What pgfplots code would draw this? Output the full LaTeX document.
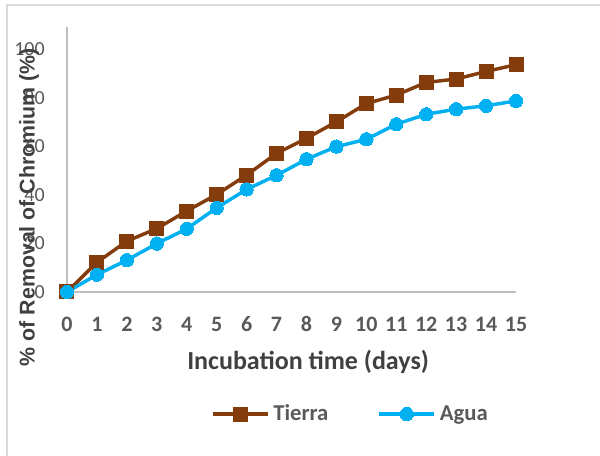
\documentclass[border=0pt]{standalone}
\usepackage{pgfplots}
\pgfplotsset{compat=1.18}
\usepackage{fontspec}
\setmainfont{Carlito}
\newfontfamily\arialfont{Liberation Sans}
\definecolor{tierra}{HTML}{843C0C}
\definecolor{agua}{HTML}{00B0F0}
\definecolor{tickgray}{HTML}{595959}
\definecolor{labgray}{HTML}{404040}
\definecolor{axgray}{HTML}{BFBFBF}
\definecolor{bordgray}{HTML}{D9D9D9}
\pgfplotstableread{
x tierra agua
0 0 0
1 12.2 7.1
2 20.9 13.1
3 26.1 19.9
4 33.3 26.0
5 40.1 34.6
6 48.1 42.2
7 57.0 48.0
8 63.2 54.6
9 70.0 59.8
10 77.5 62.8
11 81.0 69.0
12 86.2 73.1
13 87.6 75.2
14 90.7 76.6
15 93.5 78.6
}\datatable
\begin{document}
\begin{tikzpicture}
\useasboundingbox (0,0) rectangle (450pt,342pt);
\draw[bordgray, line width=0.9pt] (5.25pt,0) -- (5.25pt,338.25pt) -- (450pt,338.25pt);
\begin{axis}[
  scale only axis,
  width=336.75pt, height=198.75pt,
  at={(50.25pt,123pt)}, anchor=south west,
  xmin=0, xmax=15, ymin=0, ymax=109,
  axis lines=left,
  axis line style={axgray, line width=0.9pt, -},
  xtick={0,...,15}, ytick={0,20,...,100},
  major tick length=0pt,
  clip=false,
  /pgf/number format/assume math mode=true,
  xticklabel style={font=\fontsize{16.5}{18}\selectfont\bfseries, text=tickgray, anchor=base, yshift=-29.8pt, inner sep=0pt},
  yticklabel style={font=\fontsize{15}{17}\selectfont, text=tickgray, anchor=east, xshift=-16.5pt, inner sep=0pt},
  xlabel={Incubation time (days)},
  xlabel style={font=\fontsize{19.5}{22}\selectfont\bfseries, text=labgray, at={(axis description cs:0.537,-0.294)}, anchor=base, inner sep=0pt},
  ylabel={\% of Removal of Chromium (\%)},
  ylabel style={font=\arialfont\fontsize{16}{18}\selectfont\bfseries, text=labgray, at={(axis description cs:-0.0846,0.32)}, anchor=center, rotate=0, inner sep=0pt},
  legend columns=2,
  legend style={draw=none, fill=none, at={(axis description cs:0.3207,-0.4604)}, anchor=west, inner sep=0pt,
    nodes={inner sep=0pt, font=\fontsize{17}{19}\selectfont\bfseries, text=tickgray},
    /tikz/every odd column/.append style={column sep=3pt},
    /tikz/every even column/.append style={column sep=37pt}},
  legend image code/.code={\draw[mark repeat=2, mark phase=2, #1] plot coordinates {(0pt,0pt) (20.5pt,0pt) (41pt,0pt)};},
]
\addplot[tierra, line width=2.6pt, mark=square*, mark size=5.25pt, mark options={solid, line width=0pt}] table[x=x, y=tierra] {\datatable};
\addlegendentry{Tierra}
\addplot[agua, line width=2.6pt, mark=*, mark size=5pt, mark options={solid, line width=0pt}] table[x=x, y=agua] {\datatable};
\addlegendentry{Agua}
\end{axis}
\end{tikzpicture}
\end{document}
